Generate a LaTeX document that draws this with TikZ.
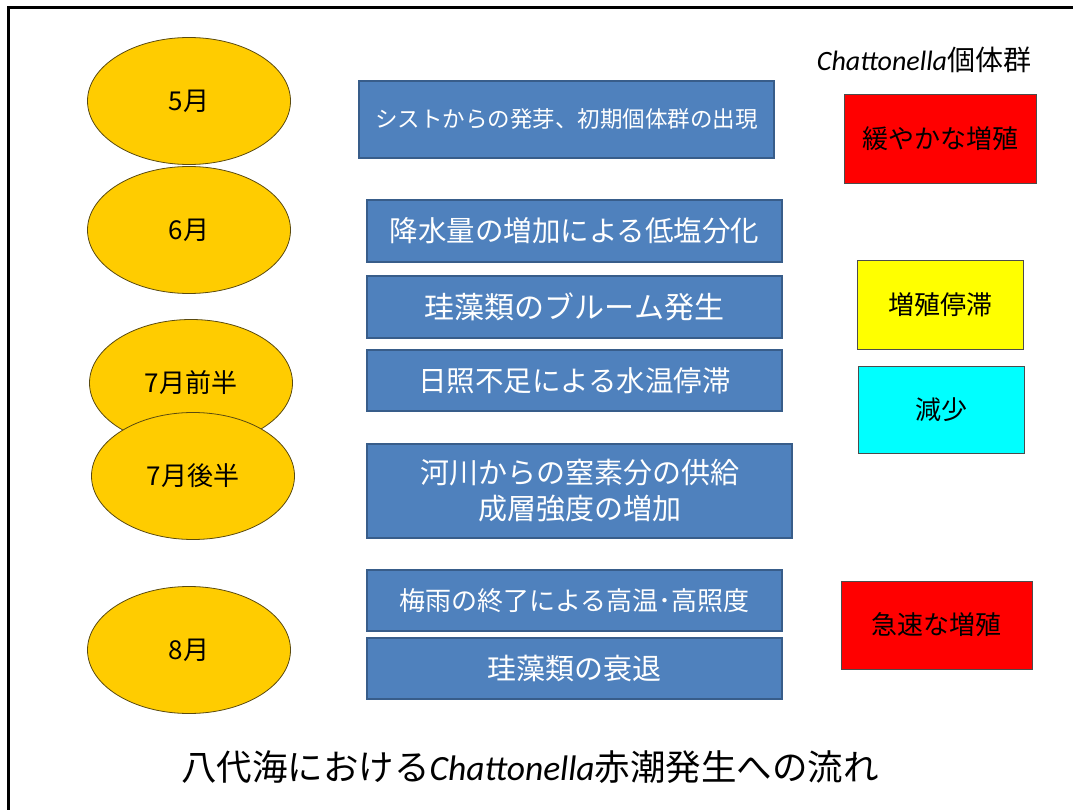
\documentclass[tikz,border=0pt]{standalone}
\usepackage{fontspec}
\setmainfont{Noto Sans CJK JP}
\newfontfamily\latinfont{Carlito}
\usetikzlibrary{shapes.geometric}
\definecolor{gold}{HTML}{FFCC00}
\definecolor{goldline}{HTML}{5A4A10}
\definecolor{boxblue}{HTML}{4F81BD}
\definecolor{boxline}{HTML}{385D8A}
\definecolor{cyanbox}{HTML}{00FFFF}
\definecolor{yellowbox}{HTML}{FFFF00}
\definecolor{redbox}{HTML}{FF0000}
\newcommand{\fsz}[1]{\fontsize{#1pt}{#1pt}\selectfont}
\newcommand{\chat}{{\latinfont\itshape Chattonella}}
\tikzset{
  month/.style={ellipse, draw=goldline, line width=0.8pt, fill=gold, inner sep=0pt,
    minimum width=203pt, minimum height=127pt, font=\fsz{26}},
  event/.style={rectangle, draw=boxline, line width=1.2pt, fill=boxblue, inner sep=0pt,
    text=white, align=center, font=\fsz{28.5}},
  stat/.style={rectangle, draw=black!70, line width=0.8pt, inner sep=0pt,
    text=black, font=\fsz{26}},
}
\begin{document}
\begin{tikzpicture}[x=1pt,y=-1pt]
\useasboundingbox (0,0) rectangle (1073,810);
\fill[white] (0,0) rectangle (1073,810);
\draw[line width=3pt] (8,810) -- (8,8) -- (1073,8);

% months
\node[month] (m5) at (189,101) {5月};
\node[month] (m6) at (189,230) {6月};
\node[month] (m7a) at (191,383) {7月前半};
\node[month] (m7b) at (193,476) {7月後半};
\node[month] (m8) at (189,650) {8月};

% events
\node[event, minimum width=415pt, minimum height=77pt, font=\fsz{22.5}] (e1) at (566.5,119.5) {シストからの発芽、初期個体群の出現};
\node[event, minimum width=415pt, minimum height=62pt] (e2) at (574.5,231) {降水量の増加による低塩分化};
\node[event, minimum width=415pt, minimum height=62pt, font=\fsz{30}] (e3) at (574.5,307) {珪藻類のブルーム発生};
\node[event, minimum width=415pt, minimum height=61pt] (e4) at (574.5,380.5) {日照不足による水温停滞};
\node[event, minimum width=425pt, minimum height=94pt, font={\fsz{29}\baselineskip=36pt}] (e5) at (579.5,491) {河川からの窒素分の供給\\成層強度の増加};
\node[event, minimum width=415pt, minimum height=61pt, font=\fsz{26}] (e6) at (574.5,600.5) {梅雨の終了による高温･高照度};
\node[event, minimum width=415pt, minimum height=61pt, font=\fsz{29}] (e7) at (574.5,668.5) {珪藻類の衰退};

% population
\node[font=\fsz{28}, inner sep=0pt] (ph) at (924,60) {\chat 個体群};
\node[stat, fill=redbox, minimum width=192pt, minimum height=89pt] (s1) at (940,138.5) {緩やかな増殖};
\node[stat, fill=yellowbox, minimum width=166pt, minimum height=89pt] (s2) at (940,304.5) {増殖停滞};
\node[stat, fill=cyanbox, minimum width=166pt, minimum height=87pt] (s3) at (941,409.5) {減少};
\node[stat, fill=redbox, minimum width=191pt, minimum height=88pt] (s4) at (936.5,625) {急速な増殖};

% title
\node[font=\fsz{35.5}, inner sep=0pt] (title) at (530,767) {八代海における\chat 赤潮発生への流れ};
\end{tikzpicture}
\end{document}
